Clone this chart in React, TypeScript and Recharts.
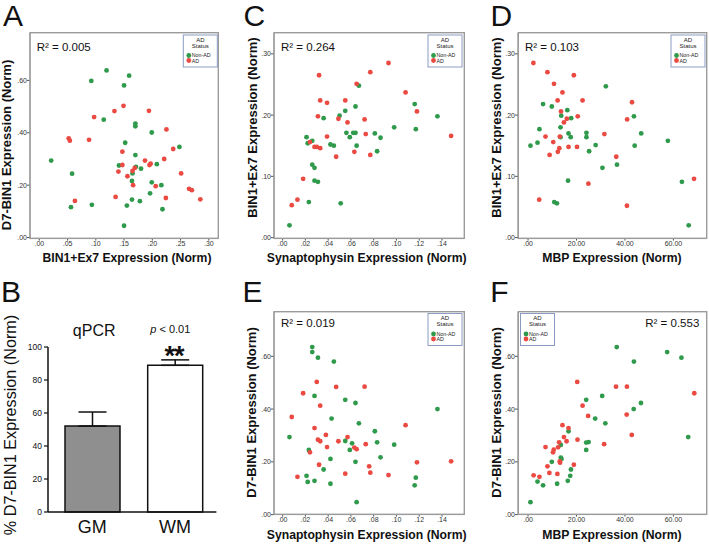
import React from 'react';
import {
  ScatterChart, Scatter, XAxis, YAxis,
  BarChart, Bar, Cell, ErrorBar,
} from 'recharts';

type Pt = [number, number];

// ---------- Panel A: BIN1+Ex7 (x) vs D7-BIN1 (y)
const aNonAD: Pt[] = [
  [0.119, 0.638], [0.159, 0.618], [0.092, 0.598], [0.150, 0.581], [0.114, 0.450], [0.170, 0.435],
  [0.170, 0.425], [0.199, 0.401], [0.152, 0.362], [0.248, 0.346], [0.170, 0.315], [0.021, 0.294],
  [0.141, 0.275], [0.171, 0.270], [0.180, 0.263], [0.208, 0.280], [0.165, 0.245], [0.058, 0.244],
  [0.164, 0.216], [0.199, 0.211], [0.216, 0.200], [0.196, 0.169], [0.164, 0.145], [0.178, 0.139],
  [0.093, 0.125], [0.155, 0.122], [0.056, 0.116], [0.218, 0.108], [0.150, 0.045],
];
const aAD: Pt[] = [
  [0.149, 0.503], [0.133, 0.483], [0.194, 0.484], [0.097, 0.460], [0.225, 0.413], [0.052, 0.379],
  [0.054, 0.370], [0.088, 0.373], [0.237, 0.338], [0.147, 0.328], [0.187, 0.294], [0.221, 0.300],
  [0.197, 0.282], [0.195, 0.277], [0.147, 0.277], [0.140, 0.252], [0.169, 0.266], [0.165, 0.254],
  [0.156, 0.234], [0.166, 0.200], [0.251, 0.245], [0.206, 0.196], [0.265, 0.186], [0.270, 0.181],
  [0.135, 0.155], [0.224, 0.151], [0.285, 0.146], [0.063, 0.140],
];

// ---------- Panel C: Synaptophysin (x) vs BIN1+Ex7 (y)
const cNonAD: Pt[] = [
  [0.006, 0.020], [0.023, 0.058], [0.051, 0.056], [0.028, 0.093], [0.031, 0.091], [0.026, 0.119],
  [0.028, 0.114], [0.021, 0.164], [0.022, 0.154], [0.026, 0.158], [0.042, 0.152], [0.045, 0.150],
  [0.036, 0.195], [0.050, 0.199], [0.056, 0.171], [0.055, 0.207], [0.059, 0.164], [0.062, 0.171],
  [0.064, 0.171], [0.064, 0.214], [0.065, 0.150], [0.067, 0.248], [0.081, 0.170], [0.083, 0.141],
  [0.086, 0.163], [0.098, 0.180], [0.116, 0.218], [0.117, 0.177], [0.136, 0.198],
];
const cAD: Pt[] = [
  [0.008, 0.053], [0.013, 0.062], [0.018, 0.096], [0.024, 0.156], [0.028, 0.148], [0.030, 0.148],
  [0.033, 0.146], [0.031, 0.198], [0.032, 0.265], [0.033, 0.224], [0.039, 0.220], [0.039, 0.165],
  [0.047, 0.132], [0.049, 0.194], [0.055, 0.224], [0.057, 0.188], [0.063, 0.140], [0.065, 0.251],
  [0.072, 0.193], [0.073, 0.169], [0.077, 0.270], [0.077, 0.135], [0.093, 0.285], [0.108, 0.237],
  [0.118, 0.206], [0.148, 0.166],
];

// ---------- Panel D: MBP (x) vs BIN1+Ex7 (y)
const dNonAD: Pt[] = [
  [1.0, 0.150], [3.9, 0.155], [4.7, 0.177], [6.2, 0.218], [9.8, 0.214], [13.7, 0.199],
  [13.4, 0.180], [13.4, 0.164], [16.2, 0.208], [17.8, 0.195], [16.7, 0.170], [17.6, 0.164],
  [16.5, 0.093], [10.8, 0.058], [11.9, 0.056], [24.1, 0.171], [24.1, 0.164], [25.2, 0.141],
  [27.9, 0.151], [32.1, 0.247], [30.7, 0.114], [36.7, 0.119], [43.7, 0.198], [44.0, 0.150],
  [46.7, 0.170], [57.7, 0.158], [63.5, 0.091], [66.3, 0.020],
];
const dAD: Pt[] = [
  [2.2, 0.285], [8.0, 0.270], [10.7, 0.251], [14.2, 0.237], [18.9, 0.265], [12.2, 0.224],
  [22.5, 0.224], [13.6, 0.206], [20.5, 0.198], [16.0, 0.194], [14.8, 0.188], [7.2, 0.165],
  [13.1, 0.165], [10.4, 0.156], [12.9, 0.146], [12.3, 0.140], [16.7, 0.148], [20.2, 0.148],
  [8.9, 0.135], [31.5, 0.169], [42.9, 0.221], [40.9, 0.193], [36.4, 0.132], [24.9, 0.088],
  [4.6, 0.062], [40.8, 0.052], [68.5, 0.096],
];

// ---------- Panel E: Synaptophysin (x) vs D7-BIN1 (y)
const eNonAD: Pt[] = [
  [0.026, 0.635], [0.026, 0.616], [0.031, 0.595], [0.045, 0.580], [0.028, 0.450], [0.055, 0.435],
  [0.064, 0.423], [0.043, 0.364], [0.067, 0.346], [0.081, 0.316], [0.006, 0.294], [0.055, 0.279],
  [0.061, 0.270], [0.083, 0.274], [0.098, 0.265], [0.059, 0.245], [0.023, 0.245], [0.042, 0.211],
  [0.086, 0.217], [0.064, 0.200], [0.036, 0.171], [0.021, 0.147], [0.022, 0.124], [0.028, 0.128],
  [0.042, 0.117], [0.117, 0.140], [0.116, 0.111], [0.065, 0.047], [0.136, 0.400],
];
const eAD: Pt[] = [
  [0.030, 0.503], [0.047, 0.484], [0.072, 0.485], [0.018, 0.460], [0.033, 0.413], [0.008, 0.370],
  [0.028, 0.328], [0.038, 0.302], [0.031, 0.284], [0.033, 0.278], [0.039, 0.256], [0.024, 0.236],
  [0.049, 0.278], [0.057, 0.294], [0.063, 0.254], [0.065, 0.248], [0.073, 0.267], [0.108, 0.339],
  [0.032, 0.189], [0.076, 0.183], [0.077, 0.159], [0.055, 0.155], [0.093, 0.150], [0.013, 0.143],
  [0.118, 0.198], [0.148, 0.202],
];

// ---------- Panel F: MBP (x) vs D7-BIN1 (y)
const fNonAD: Pt[] = [
  [1.0, 0.047], [3.9, 0.125], [6.2, 0.111], [9.8, 0.200], [12.0, 0.117], [13.5, 0.216],
  [13.8, 0.211], [13.5, 0.264], [17.7, 0.171], [17.4, 0.147], [16.4, 0.128], [16.7, 0.316],
  [24.0, 0.273], [25.0, 0.275], [24.0, 0.245], [24.0, 0.435], [27.7, 0.364], [30.6, 0.450],
  [31.9, 0.346], [36.6, 0.635], [43.7, 0.580], [43.6, 0.400], [46.6, 0.423], [57.4, 0.616],
  [63.3, 0.595], [66.1, 0.294],
];
const fAD: Pt[] = [
  [2.3, 0.149], [4.7, 0.143], [7.2, 0.256], [8.0, 0.183], [8.8, 0.158], [10.6, 0.246],
  [10.3, 0.236], [12.4, 0.255], [12.1, 0.154], [12.8, 0.274], [13.1, 0.202], [13.2, 0.197],
  [14.2, 0.339], [14.8, 0.294], [15.9, 0.278], [16.7, 0.328], [18.9, 0.189], [20.3, 0.503],
  [20.4, 0.284], [22.5, 0.413], [24.8, 0.374], [31.4, 0.267], [36.3, 0.485], [40.8, 0.485],
  [40.7, 0.379], [42.8, 0.302], [68.6, 0.460],
];

// ---------- Panel B: qPCR bars
const bCategories = ['GM', 'WM'];
const bMeans = [52.1, 88.9];
const bUpperErr = [8.5, 3.3];
const bTicks = [0, 20, 40, 60, 80, 100];

// ---------- tick labels
const ticksBin1 = [0, 0.05, 0.1, 0.15, 0.2, 0.25, 0.3];
const ticksD7 = [0, 0.2, 0.4, 0.6];
const ticksBin1Y = [0, 0.1, 0.2, 0.3];
const ticksSyn = [0, 0.02, 0.04, 0.06, 0.08, 0.1, 0.12, 0.14];
const ticksMbp = [0, 20, 40, 60];

const FONT = '"Liberation Sans", Arial, Helvetica, sans-serif';
const GREEN = '#2f9a4c';
const RED = '#ea4a42';
const FRAME = '#9b9b9b';

// plot frames (layout only)
const BOX_A = { l: 30, t: 32.7, r: 218.3, b: 238.3 };
const BOX_C = { l: 274, t: 32.7, r: 464.3, b: 238.3 };
const BOX_D = { l: 518.3, t: 32.7, r: 706.7, b: 238.3 };
const BOX_E = { l: 274, t: 311.7, r: 464.3, b: 514.3 };
const BOX_F = { l: 518.3, t: 311.7, r: 706.7, b: 514.3 };

const fmt = (v: number) => (v < 1 ? v.toFixed(2).replace(/^0\./, '.') : v.toFixed(2));
const toPts = (arr: Pt[]) => arr.map(([x, y]) => ({ x, y }));
const makeDot = (color: string) => (p: any) => <circle cx={p.cx} cy={p.cy} r={2.4} fill={color} />;

type Box = { l: number; t: number; r: number; b: number };
type PanelProps = {
  box: Box;
  xDomain: [number, number]; yDomain: [number, number];
  xTicks: number[]; yTicks: number[];
  nonAD: Pt[]; ad: Pt[];
};

function ScatterPanel({ box, xDomain, yDomain, xTicks, yTicks, nonAD, ad }: PanelProps) {
  const { l, t, r, b } = box;
  const YW = 30, XH = 20, MT = 4, MR = 4;
  const width = r - l + YW + MR;
  const height = b - t + MT + XH;
  const tickStyle = { fontSize: 7, fill: '#333', fontFamily: FONT };
  return (
    <div style={{ position: 'absolute', left: l - YW, top: t - MT }}>
      <ScatterChart width={width} height={height} margin={{ top: MT, right: MR, bottom: 0, left: 0 }}>
        <XAxis
          type="number" dataKey="x" domain={xDomain} ticks={xTicks} allowDataOverflow interval={0}
          tickFormatter={fmt} height={XH} tickSize={2} tickMargin={0} tick={tickStyle}
          axisLine={{ stroke: FRAME }} tickLine={{ stroke: '#555' }}
        />
        <YAxis
          type="number" dataKey="y" domain={yDomain} ticks={yTicks} allowDataOverflow interval={0}
          tickFormatter={fmt} width={YW} tickSize={3} tickMargin={0} tick={tickStyle}
          axisLine={{ stroke: FRAME }} tickLine={{ stroke: '#555' }}
        />
        <Scatter data={toPts(nonAD)} fill={GREEN} shape={makeDot(GREEN)} isAnimationActive={false} />
        <Scatter data={toPts(ad)} fill={RED} shape={makeDot(RED)} isAnimationActive={false} />
      </ScatterChart>
    </div>
  );
}

function Frame({ box }: { box: Box }) {
  return <rect x={box.l} y={box.t} width={box.r - box.l} height={box.b - box.t} fill="none" stroke={FRAME} strokeWidth={1.4} />;
}

function LegendBox({ x, y }: { x: number; y: number }) {
  return (
    <g fontFamily={FONT}>
      <rect x={x} y={y} width={34} height={32} fill="#fff" stroke="#8c9bc4" strokeWidth={1} />
      <text x={x + 17} y={y + 6.5} fontSize={6} textAnchor="middle" fill="#222">AD</text>
      <text x={x + 17} y={y + 12.8} fontSize={6} textAnchor="middle" fill="#222">Status</text>
      <circle cx={x + 5.5} cy={y + 20.5} r={2.4} fill={GREEN} />
      <text x={x + 8.5} y={y + 22.3} fontSize={5.3} fill="#222">Non-AD</text>
      <circle cx={x + 5.5} cy={y + 25.5} r={2.4} fill={RED} />
      <text x={x + 8.5} y={y + 27.5} fontSize={5.3} fill="#222">AD</text>
    </g>
  );
}

function Overlay() {
  const letter = { fontSize: 30, fill: '#111', fontFamily: FONT } as const;
  const r2 = { fontSize: 11.5, fill: '#111', fontFamily: FONT } as const;
  const xt = { fontSize: 12.2, fontWeight: 700, fill: '#111', fontFamily: FONT, textAnchor: 'middle' } as const;
  const yt = { fontSize: 13, fontWeight: 700, fill: '#111', fontFamily: FONT, textAnchor: 'middle' } as const;
  return (
    <svg width={709} height={544} style={{ position: 'absolute', left: 0, top: 0, pointerEvents: 'none' }}>
      <Frame box={BOX_A} />
      <Frame box={BOX_C} />
      <Frame box={BOX_D} />
      <Frame box={BOX_E} />
      <Frame box={BOX_F} />

      <text x={3} y={26} {...letter}>A</text>
      <text x={243.5} y={26} {...letter}>C</text>
      <text x={490.5} y={26} {...letter}>D</text>
      <text x={1} y={301.7} {...letter}>B</text>
      <text x={242.6} y={302} {...letter}>E</text>
      <text x={490.3} y={302} {...letter}>F</text>

      <text x={36.7} y={50.7} {...r2}>R² = 0.005</text>
      <text x={281} y={50.7} {...r2}>R² = 0.264</text>
      <text x={525} y={50.7} {...r2}>R² = 0.103</text>
      <text x={281} y={327.3} {...r2}>R² = 0.019</text>
      <text x={699.3} y={327.3} {...r2} textAnchor="end">R² = 0.553</text>

      <text x={127} y={261.7} {...xt}>BIN1+Ex7 Expression (Norm)</text>
      <text x={366.7} y={261.7} {...xt}>Synaptophysin Expression (Norm)</text>
      <text x={612} y={261.7} {...xt}>MBP Expression (Norm)</text>
      <text x={366.7} y={539.3} {...xt}>Synaptophysin Expression (Norm)</text>
      <text x={612} y={539.3} {...xt}>MBP Expression (Norm)</text>

      <text transform="translate(11,145) rotate(-90)" {...yt}>D7-BIN1 Expression (Norm)</text>
      <text transform="translate(257,127.5) rotate(-90)" {...yt}>BIN1+Ex7 Expression (Norm)</text>
      <text transform="translate(501,127.5) rotate(-90)" {...yt}>BIN1+Ex7 Expression (Norm)</text>
      <text transform="translate(256,412.5) rotate(-90)" {...yt}>D7-BIN1 Expression (Norm)</text>
      <text transform="translate(501,412.5) rotate(-90)" {...yt}>D7-BIN1 Expression (Norm)</text>
      <text transform="translate(15.5,425) rotate(-90)" fontSize={16.2} fill="#111" fontFamily={FONT} textAnchor="middle">% D7-BIN1 Expression (Norm)</text>

      <text x={94.2} y={336} fontSize={16} fill="#111" fontFamily={FONT} textAnchor="middle">qPCR</text>
      <text x={170.3} y={333.3} fontSize={11} fill="#111" fontFamily={FONT} textAnchor="middle">
        <tspan fontStyle="italic">p</tspan> &lt; 0.01
      </text>
      <text x={174} y={365} fontSize={27} fontWeight={700} fill="#111" fontFamily={FONT} textAnchor="middle" letterSpacing={-1}>**</text>

      <LegendBox x={183.3} y={35} />
      <LegendBox x={428} y={35} />
      <LegendBox x={671} y={35} />
      <LegendBox x={428} y={313.5} />
      <LegendBox x={520.5} y={313.5} />
    </svg>
  );
}

function BarPanel() {
  const data = bCategories.map((c, i) => ({ cat: c, v: bMeans[i], err: [0, bUpperErr[i]] }));
  const fills = ['#8f8f8f', '#ffffff'];
  const l = 48.3, t = 346.7, r = 216.7, b = 511.7;
  const YW = 30, XH = 30, MT = 5, MR = 5;
  return (
    <div style={{ position: 'absolute', left: l - YW, top: t - MT }}>
      <BarChart width={r - l + YW + MR} height={b - t + MT + XH} data={data} margin={{ top: MT, right: MR, bottom: 0, left: 0 }}>
        <XAxis
          dataKey="cat" padding={{ left: 3, right: 0 }} height={XH} tickSize={0} tickMargin={8.5}
          tick={{ fontSize: 18, fill: '#111', fontFamily: FONT }} axisLine={{ stroke: '#111', strokeWidth: 1.5 }}
        />
        <YAxis
          type="number" domain={[0, 100]} ticks={bTicks} interval={0} width={YW} tickSize={4} tickMargin={2}
          tick={{ fontSize: 8.5, fill: '#111', fontFamily: FONT }} axisLine={{ stroke: '#111', strokeWidth: 1.5 }}
          tickLine={{ stroke: '#111', strokeWidth: 1.2 }}
        />
        <Bar dataKey="v" barSize={55} stroke="#111" strokeWidth={1.5} isAnimationActive={false}>
          {data.map((d, i) => <Cell key={d.cat} fill={fills[i]} />)}
          <ErrorBar dataKey="err" width={14} stroke="#111" strokeWidth={1.5} direction="y" isAnimationActive={false} />
        </Bar>
      </BarChart>
    </div>
  );
}

export default function App() {
  return (
    <div style={{ position: 'absolute', left: 0, top: 0, width: 709, height: 544, background: '#fff', fontFamily: FONT }}>
      <ScatterPanel box={BOX_A} xDomain={[-0.0165, 0.3168]} yDomain={[-0.004, 0.781]}
        xTicks={ticksBin1} yTicks={ticksD7} nonAD={aNonAD} ad={aAD} />
      <ScatterPanel box={BOX_C} xDomain={[-0.0076, 0.1596]} yDomain={[-0.0016, 0.334]}
        xTicks={ticksSyn} yTicks={ticksBin1Y} nonAD={cNonAD} ad={cAD} />
      <ScatterPanel box={BOX_D} xDomain={[-4.15, 73.6]} yDomain={[-0.0016, 0.334]}
        xTicks={ticksMbp} yTicks={ticksBin1Y} nonAD={dNonAD} ad={dAD} />
      <ScatterPanel box={BOX_E} xDomain={[-0.0076, 0.1596]} yDomain={[0, 0.768]}
        xTicks={ticksSyn} yTicks={ticksD7} nonAD={eNonAD} ad={eAD} />
      <ScatterPanel box={BOX_F} xDomain={[-4.15, 73.6]} yDomain={[0, 0.768]}
        xTicks={ticksMbp} yTicks={ticksD7} nonAD={fNonAD} ad={fAD} />
      <BarPanel />
      <Overlay />
    </div>
  );
}
